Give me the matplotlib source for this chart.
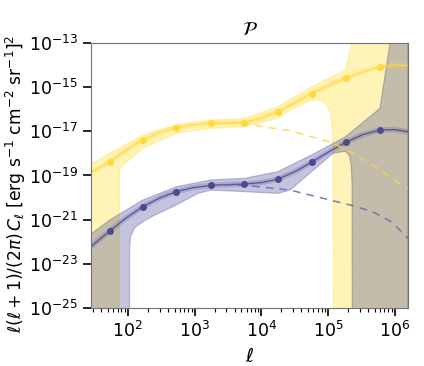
import numpy as np
import matplotlib
matplotlib.use('Agg')
import matplotlib.pyplot as plt

# bin centres (log10 ell) and measured points (log10 of l(l+1)/2pi C_l)
bin_logl = [1.726, 2.225, 2.724, 3.244, 3.744, 4.244, 4.754, 5.264, 5.778]
yel_pts = [-18.38, -17.38, -16.83, -16.64, -16.60, -16.11, -15.29, -14.60, -14.09]
blu_pts = [-21.52, -20.41, -19.73, -19.45, -19.39, -19.17, -18.40, -17.50, -16.94]

# model curves (solid)
model_logl = [1.445, 1.726, 1.975, 2.225, 2.475, 2.724, 2.98, 3.244, 3.5, 3.744,
              4.0, 4.244, 4.5, 4.754, 5.0, 5.264, 5.52, 5.778, 6.0, 6.198]
yel_model = [-18.87, -18.38, -17.85, -17.38, -17.05, -16.83, -16.70, -16.64, -16.62, -16.60,
             -16.40, -16.11, -15.72, -15.29, -14.93, -14.60, -14.30, -14.09, -14.00, -14.02]
blu_model = [-22.22, -21.52, -20.92, -20.41, -20.02, -19.73, -19.55, -19.45, -19.41, -19.39,
             -19.32, -19.17, -18.83, -18.40, -17.95, -17.50, -17.15, -16.94, -16.92, -17.02]

# dashed curves (component without the high-ell term)
yel_dash_logl = [3.5, 3.744, 4.02, 4.43, 5.03, 5.35, 5.67, 5.95, 6.15, 6.198]
yel_dash = [-16.62, -16.60, -16.79, -16.97, -17.48, -17.95, -18.53, -19.10, -19.52, -19.62]
blu_dash_logl = [3.244, 3.5, 3.744, 4.0, 4.43, 5.03, 5.35, 5.67, 5.95, 6.15, 6.198]
blu_dash = [-19.45, -19.43, -19.45, -19.52, -19.66, -20.11, -20.35, -20.64, -21.10, -21.70, -21.85]

# uncertainty bands, upper and lower edges (-30 = below the axis)
yel_up_logl = [1.445, 1.726, 2.225, 2.724, 3.244, 3.744, 4.244, 4.754, 5.264, 5.354, 6.198]
yel_up = [-18.50, -18.00, -17.17, -16.71, -16.49, -16.41, -15.89, -14.98, -14.22, -13.0, -12.0]
yel_lo_logl = [1.445, 1.869, 1.872, 1.878, 1.90, 2.225, 2.724, 3.249, 3.744, 4.244, 4.43,
               4.754, 4.879, 4.969, 5.03, 5.06, 5.075, 5.08, 6.198]
yel_lo = [-30, -30, -19.0, -18.72, -18.60, -17.77, -17.09, -16.86, -16.79, -16.41, -16.03,
          -15.58, -15.58, -15.76, -16.10, -16.70, -17.85, -30, -30]

blu_up_logl = [1.445, 1.726, 2.225, 2.724, 3.244, 3.744, 4.244, 4.754, 5.264, 5.778, 5.928, 6.198]
blu_up = [-21.66, -21.02, -20.11, -19.51, -19.20, -19.13, -18.83, -18.07, -17.24, -15.96, -13.0, -12.0]
blu_lo_logl = [1.445, 2.022, 2.026, 2.04, 2.105, 2.225, 2.405, 2.724, 3.05, 3.249, 3.744,
               4.25, 4.43, 4.754, 5.08, 5.26, 5.32, 5.35, 5.36, 5.365, 6.198]
blu_lo = [-30, -30, -22.3, -21.75, -21.35, -21.09, -20.79, -20.34, -19.81, -19.66, -19.73,
          -19.81, -19.66, -18.82, -17.99, -17.90, -18.10, -18.60, -19.50, -30, -30]

yellow = '#FFD83A'
blue = '#4A4A90'


def band(ax, xu, yu, xl, yl, color, alpha):
    xs = np.concatenate([np.power(10.0, xu), np.power(10.0, xl)[::-1]])
    ys = np.concatenate([np.power(10.0, yu), np.power(10.0, yl)[::-1]])
    ax.fill(xs, ys, facecolor=color, edgecolor=color, alpha=alpha, linewidth=0.9)


fig, ax = plt.subplots(figsize=(4.24, 3.66), dpi=100)
fig.subplots_adjust(left=0.2146, right=0.9623, top=0.8825, bottom=0.1585)
ax.set_xscale('log')
ax.set_yscale('log')

band(ax, yel_up_logl, yel_up, yel_lo_logl, yel_lo, '#FFE14D', 0.4)
band(ax, blu_up_logl, blu_up, blu_lo_logl, blu_lo, '#2E2E8C', 0.28)

ml = np.power(10.0, model_logl)
for vals, c in [(yel_model, yellow), (blu_model, blue)]:
    ax.plot(ml, np.power(10.0, vals), color=c, lw=4, alpha=0.22, solid_capstyle='butt')
    ax.plot(ml, np.power(10.0, vals), color=c, lw=0.9, alpha=0.9)

ax.plot(np.power(10.0, yel_dash_logl), np.power(10.0, yel_dash), ls=(0, (5, 4)),
        color=yellow, lw=1.1, alpha=0.8)
ax.plot(np.power(10.0, blu_dash_logl), np.power(10.0, blu_dash), ls=(0, (5, 4)),
        color='#6E6EA8', lw=1.1, alpha=0.9)

bl = np.power(10.0, bin_logl)
ax.plot(bl, np.power(10.0, yel_pts), 'o', color=yellow, ms=4)
ax.plot(bl, np.power(10.0, blu_pts), 'o', color=blue, ms=4)

ax.set_xlim(28, 1.58e6)
ax.set_ylim(1e-25, 1e-13)
ax.set_yticks([1e-25, 1e-23, 1e-21, 1e-19, 1e-17, 1e-15, 1e-13])
ax.yaxis.set_minor_locator(matplotlib.ticker.NullLocator())
ax.set_xticks([1e2, 1e3, 1e4, 1e5, 1e6])
ax.xaxis.set_minor_locator(matplotlib.ticker.LogLocator(base=10, subs=np.arange(2, 10)))
ax.tick_params(which='major', labelsize=12.5, length=6, width=1.2)
ax.tick_params(which='minor', length=3, width=0.8)
for s in ax.spines.values():
    s.set_color('0.45')

ax.set_title(r'$\mathcal{P}$', fontsize=14)
ax.set_xlabel(r'$\ell$', fontsize=14)
ax.set_ylabel(r'$\ell(\ell+1)/(2\pi)\,C_\ell$ [erg s$^{-1}$ cm$^{-2}$ sr$^{-1}$]$^2$', fontsize=12.3)
ax.yaxis.set_label_coords(-0.2, 0.47)

fig.savefig('out.png', dpi=100)
